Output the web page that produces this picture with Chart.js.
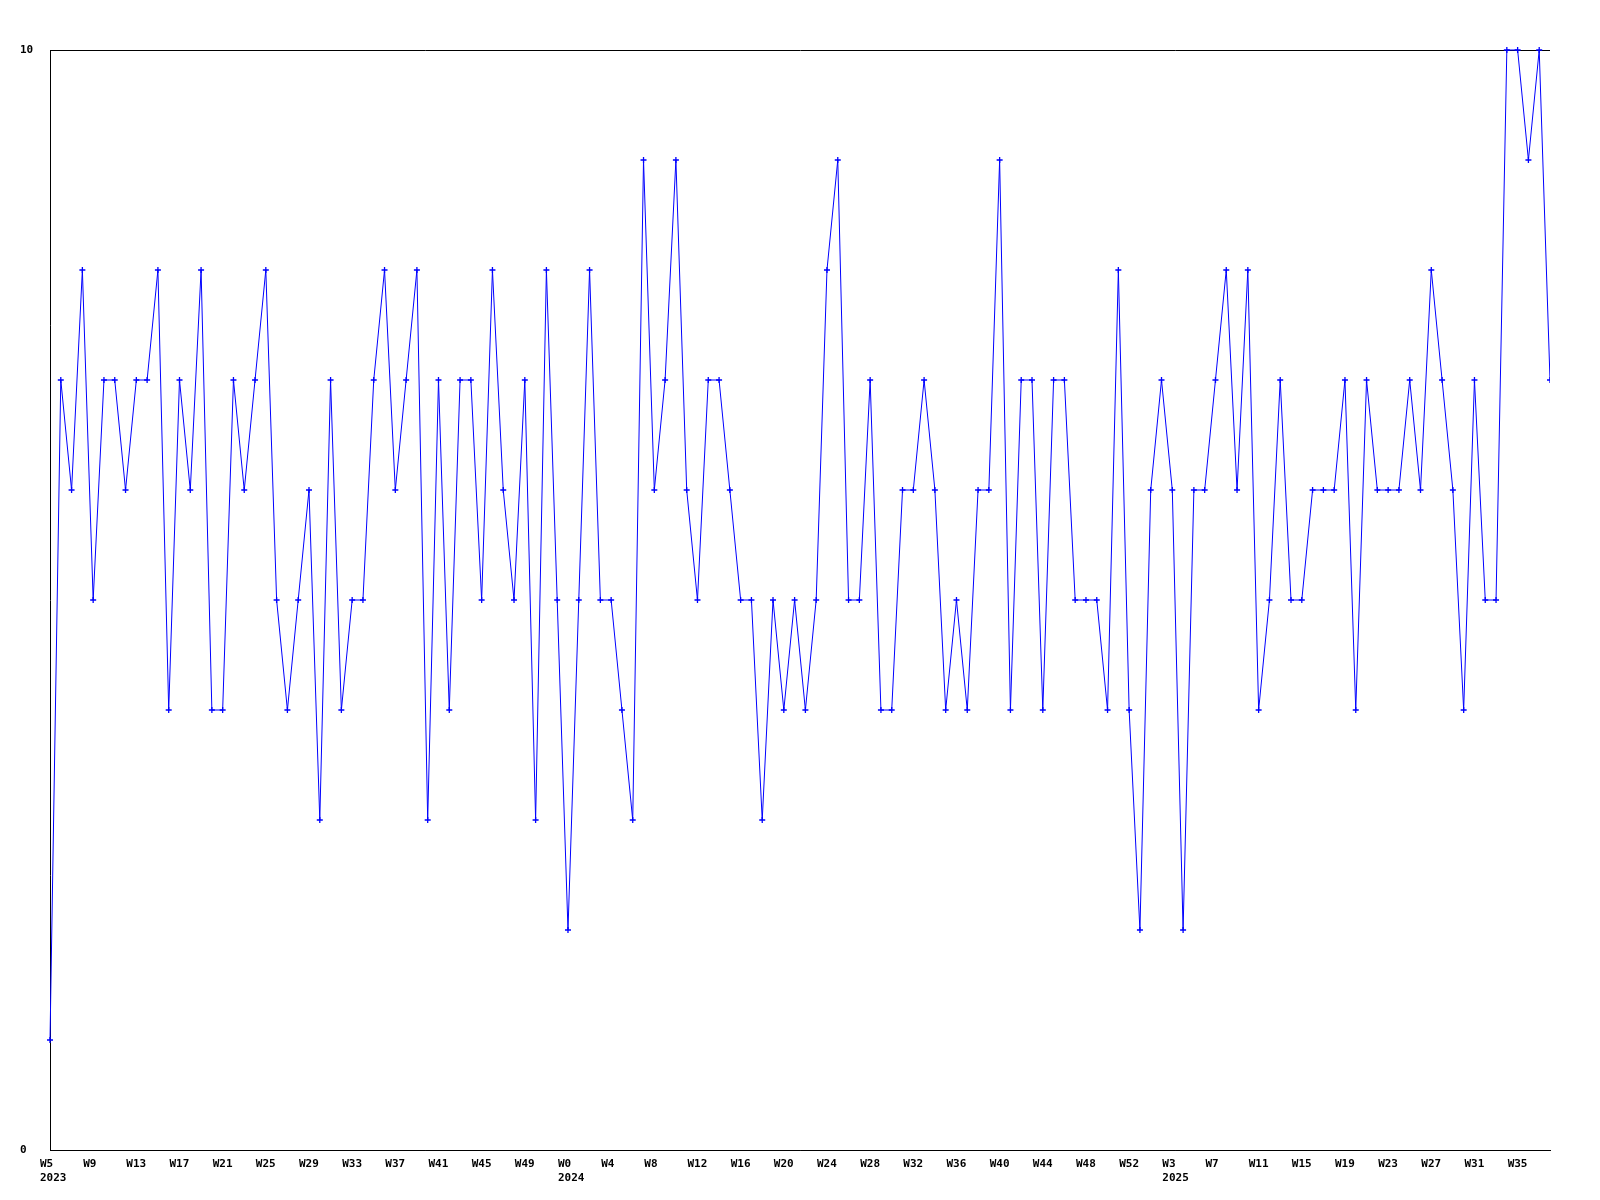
<!DOCTYPE html>
<html>
<head>
<meta charset="utf-8">
<script src="https://cdn.jsdelivr.net/npm/chart.js@4/dist/chart.umd.min.js"></script>
<style>
  body { margin: 0; background: #fff; }
  canvas { display: block; }
</style>
</head>
<body>
<canvas id="chart" width="1600" height="1200"></canvas>
<script>
// weekly values, 2023 W5 .. 2025 W38
const scores = [
  1, 7, 6, 8, 5, 7, 7, 6, 7, 7, 8, 4, 7, 6, 8, 4, 4, 7, 6, 7,
  8, 5, 4, 5, 6, 3, 7, 4, 5, 5, 7, 8, 6, 7, 8, 3, 7, 4, 7, 7,
  5, 8, 6, 5, 7, 3, 8, 5, 2, 5, 8, 5, 5, 4, 3, 9, 6, 7, 9, 6,
  5, 7, 7, 6, 5, 5, 3, 5, 4, 5, 4, 5, 8, 9, 5, 5, 7, 4, 4, 6,
  6, 7, 6, 4, 5, 4, 6, 6, 9, 4, 7, 7, 4, 7, 7, 5, 5, 5, 4, 8,
  4, 2, 6, 7, 6, 2, 6, 6, 7, 8, 6, 8, 4, 5, 7, 5, 5, 6, 6, 6,
  7, 4, 7, 6, 6, 6, 7, 6, 8, 7, 6, 4, 7, 5, 5, 10, 10, 9, 10, 7
];

// one label every 4th week
const tickLabels = [
  ['W5', '2023'], 'W9', 'W13', 'W17', 'W21', 'W25', 'W29', 'W33', 'W37', 'W41', 'W45', 'W49',
  ['W0', '2024'], 'W4', 'W8', 'W12', 'W16', 'W20', 'W24', 'W28', 'W32', 'W36', 'W40', 'W44', 'W48', 'W52',
  ['W3', '2025'], 'W7', 'W11', 'W15', 'W19', 'W23', 'W27', 'W31', 'W35'
];

const yTicks = [0, 10];
const tickEvery = 4;

const tickFont = { family: 'DejaVu Sans Mono', size: 11, weight: 'bold' };

const points = scores.map((v, i) => ({ x: i, y: v }));

new Chart(document.getElementById('chart'), {
  type: 'line',
  data: {
    datasets: [{
      data: points,
      borderColor: '#0000ff',
      backgroundColor: '#0000ff',
      borderWidth: 1,
      tension: 0,
      fill: false,
      pointStyle: 'cross',
      pointRadius: 3,
      pointBorderWidth: 1.3,
      pointBorderColor: '#0000ff',
      clip: { left: 5, top: 5, right: 0, bottom: 5 },
    }]
  },
  options: {
    responsive: false,
    animation: false,
    devicePixelRatio: 1,
    layout: { padding: { left: 20, top: 50, right: 50, bottom: 0 } },
    plugins: {
      legend: { display: false },
      tooltip: { enabled: false },
    },
    scales: {
      x: {
        type: 'linear',
        min: 0,
        max: scores.length - 1,
        afterBuildTicks: (scale) => {
          scale.ticks = tickLabels.map((_, i) => ({ value: i * tickEvery }));
        },
        afterFit: (scale) => { scale.height = 50; },
        grid: { display: false },
        border: { display: true, color: '#000', width: 1 },
        ticks: {
          autoSkip: false,
          maxRotation: 0,
          minRotation: 0,
          align: 'start',
          labelOffset: -10,
          padding: 0,
          color: '#000',
          font: tickFont,
          callback: (value) => tickLabels[Math.round(value / tickEvery)],
        },
      },
      y: {
        min: 0,
        max: 10,
        afterBuildTicks: (scale) => {
          scale.ticks = yTicks.map(v => ({ value: v }));
        },
        afterFit: (scale) => { scale.width = 30; },
        grid: { display: true, color: '#000', lineWidth: 1, drawTicks: false },
        border: { display: true, color: '#000', width: 1 },
        ticks: {
          crossAlign: 'far',
          padding: 0,
          color: '#000',
          font: tickFont,
        },
      },
    },
  },
});
</script>
</body>
</html>
